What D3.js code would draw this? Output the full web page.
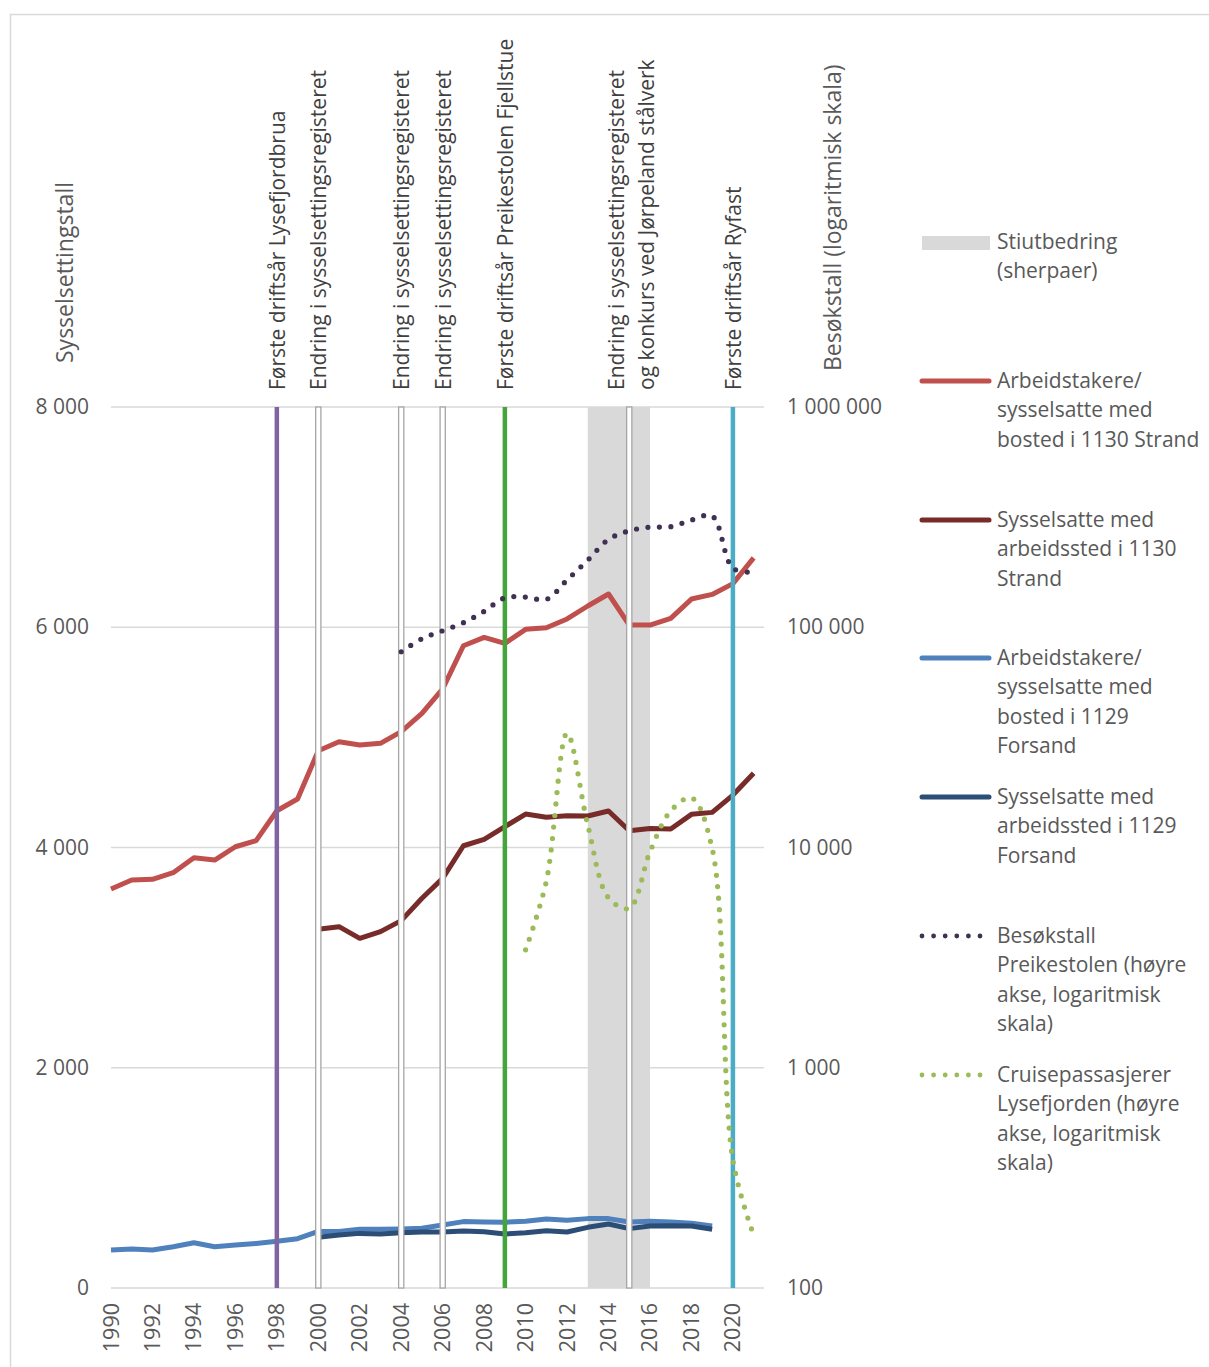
<!DOCTYPE html>
<html><head><meta charset="utf-8">
<script src="https://cdn.jsdelivr.net/npm/d3@7"></script>
<style>
html,body{margin:0;padding:0;background:#fff;}
svg text{font-family:"Open Sans","Noto Sans",sans-serif;}
</style></head>
<body>
<svg id="c" width="1209" height="1367"></svg>
<script>
// ---------- DATA ----------
const yearsAll = d3.range(1990, 2022);            // 1990..2021
const strandBosted = [3623,3705,3711,3771,3907,3886,4007,4062,4334,4440,4879,4961,4931,4946,5052,5218,5440,5832,5908,5854,5981,5996,6075,6193,6302,6020,6020,6080,6256,6298,6396,6630];
const strandArbeidYears = d3.range(2000, 2022);
const strandArbeid = [3257,3281,3175,3236,3336,3539,3720,4016,4074,4189,4304,4274,4289,4286,4331,4152,4173,4168,4301,4319,4476,4674];
const forsandBostedYears = d3.range(1990, 2020);
const forsandBosted = [345,354,345,375,411,375,390,405,424,448,514,514,533,533,536,542,572,603,600,597,606,627,615,630,630,600,606,600,588,564];
const forsandArbeidYears = d3.range(2000, 2020);
const forsandArbeid = [460,481,496,490,502,508,508,517,511,490,502,520,508,551,581,539,563,566,563,533];
const preikYears = d3.range(2004, 2022);
const preikestolen = [77400,88700,96400,104900,118100,136100,137100,133900,164000,201700,250600,274100,285000,286000,306800,320000,185400,177900];
const cruiseYears = d3.range(2010, 2022);
const cruise = [3430,7030,33000,12650,5910,5300,9570,14660,16800,9900,381,174];

const leftTicks = [0, 2000, 4000, 6000, 8000];
const rightTicks = [100, 1000, 10000, 100000, 1000000];
const xTickYears = d3.range(1990, 2021, 2);

const band = [2013, 2016];
const events = [
  {year:1998, kind:"solid", color:"#8064A2", lines:["Første driftsår Lysefjordbrua"]},
  {year:2000, kind:"double", lines:["Endring i sysselsettingsregisteret"]},
  {year:2004, kind:"double", lines:["Endring i sysselsettingsregisteret"]},
  {year:2006, kind:"double", lines:["Endring i sysselsettingsregisteret"]},
  {year:2009, kind:"solid", color:"#46A53A", lines:["Første driftsår Preikestolen Fjellstue"]},
  {year:2015, kind:"double", lines:["Endring i sysselsettingsregisteret","og konkurs ved Jørpeland stålverk"]},
  {year:2020, kind:"solid", color:"#4BACC6", lines:["Første driftsår Ryfast"]}
];

const legendItems = [
  {type:"rect", color:"#D9D9D9", lines:["Stiutbedring","(sherpaer)"], y:242},
  {type:"line", color:"#C0504D", lines:["Arbeidstakere/","sysselsatte med","bosted i 1130 Strand"], y:381},
  {type:"line", color:"#772C2A", lines:["Sysselsatte med","arbeidssted i 1130","Strand"], y:520},
  {type:"line", color:"#4F81BD", lines:["Arbeidstakere/","sysselsatte med","bosted i 1129","Forsand"], y:658},
  {type:"line", color:"#2C4D75", lines:["Sysselsatte med","arbeidssted i 1129","Forsand"], y:797},
  {type:"dot", color:"#403152", lines:["Besøkstall","Preikestolen (høyre","akse, logaritmisk","skala)"], y:936},
  {type:"dot", color:"#9BBB59", lines:["Cruisepassasjerer","Lysefjorden (høyre","akse, logaritmisk","skala)"], y:1075}
];

// ---------- SCALES ----------
const svg = d3.select("#c");
const x = d3.scaleLinear().domain([1990, 2021.5]).range([111, 764]);
const yL = d3.scaleLinear().domain([0, 8000]).range([1288, 407]);
const yR = d3.scaleLog().domain([100, 1000000]).range([1288, 407]);

// outer border
svg.append("rect").attr("x",10.5).attr("y",14.5).attr("width",1240).attr("height",1400)
  .attr("fill","none").attr("stroke","#D9D9D9").attr("stroke-width",1.5);

// band
svg.append("rect").attr("x", x(band[0])).attr("y", yL(8000))
  .attr("width", x(band[1]) - x(band[0])).attr("height", yL(0) - yL(8000))
  .attr("fill", "#D9D9D9");

// gridlines
svg.append("g").selectAll("line").data(leftTicks).join("line")
  .attr("x1", x(1990)).attr("x2", x(2021.5))
  .attr("y1", d => yL(d)).attr("y2", d => yL(d))
  .attr("stroke", "#D9D9D9").attr("stroke-width", 1.5);

// left axis labels
const gl = svg.append("g").attr("transform", "translate(89,0)")
  .call(d3.axisLeft(yL).tickValues(leftTicks).tickSize(0).tickPadding(0)
    .tickFormat(d => d3.format(",")(d).replace(/,/g, " ")));
gl.select(".domain").remove();
gl.selectAll("text").attr("font-size", 21).attr("fill", "#595959")
  .attr("font-family", "'Open Sans', sans-serif");

// right axis labels
const gr = svg.append("g").attr("transform", "translate(787,0)")
  .call(d3.axisRight(yR).tickValues(rightTicks).tickSize(0).tickPadding(0)
    .tickFormat(d => d3.format(",")(d).replace(/,/g, " ")));
gr.select(".domain").remove();
gr.selectAll("text").attr("font-size", 21).attr("fill", "#595959")
  .attr("font-family", "'Open Sans', sans-serif");

// bottom axis labels (rotated)
svg.append("g").selectAll("text").data(xTickYears).join("text")
  .attr("transform", d => `translate(${x(d) + 7.5},1303) rotate(-90)`)
  .attr("text-anchor", "end")
  .attr("font-family", "'Liberation Sans', Arial, sans-serif")
  .attr("font-size", 21.5).attr("fill", "#595959")
  .text(d => d);

// axis titles
svg.append("text").attr("transform", "translate(73,363) rotate(-90)")
  .attr("font-size", 23).attr("fill", "#595959").text("Sysselsettingstall");
svg.append("text").attr("transform", "translate(841,371) rotate(-90)")
  .attr("font-size", 23).attr("fill", "#595959").text("Besøkstall (logaritmisk skala)");

// ---------- SERIES ----------
const lineL = d3.line().x(d => x(d[0])).y(d => yL(d[1]));
const lineR = d3.line().x(d => x(d[0])).y(d => yR(d[1])).curve(d3.curveCatmullRom.alpha(0.5));
const solid = [
  {years: yearsAll, vals: strandBosted, color: "#C0504D"},
  {years: strandArbeidYears, vals: strandArbeid, color: "#772C2A"},
  {years: forsandBostedYears, vals: forsandBosted, color: "#4F81BD"},
  {years: forsandArbeidYears, vals: forsandArbeid, color: "#2C4D75"}
];
const dotted = [
  {years: preikYears, vals: preikestolen, color: "#403152"},
  {years: cruiseYears, vals: cruise, color: "#9BBB59"}
];
solid.forEach(s => {
  svg.append("path").attr("d", lineL(s.years.map((y, i) => [y, s.vals[i]])))
    .attr("fill", "none").attr("stroke", s.color).attr("stroke-width", 5)
    .attr("stroke-linejoin", "round");
});

// ---------- EVENT LINES ----------
events.forEach(ev => {
  const cx = x(ev.year);
  if (ev.kind === "solid") {
    svg.append("line").attr("x1", cx).attr("x2", cx).attr("y1", yL(8000)).attr("y2", yL(0))
      .attr("stroke", ev.color).attr("stroke-width", 4.5);
  } else {
    svg.append("rect").attr("x", cx - 2.6).attr("y", yL(8000)).attr("width", 5.2)
      .attr("height", yL(0) - yL(8000)).attr("fill", "#fff")
      .attr("stroke", "#A6A6A6").attr("stroke-width", 1.3);
  }
  const n = ev.lines.length;
  ev.lines.forEach((t, i) => {
    const bx = cx + 8 + (i - (n - 1) / 2) * 30 - (n > 1 ? -2 : 0);
    svg.append("text").attr("transform", `translate(${bx},390) rotate(-90)`)
      .attr("font-size", 21).attr("fill", "#404040").text(t);
  });
});

// dotted series on top
dotted.forEach(s => {
  svg.append("path").attr("d", lineR(s.years.map((y, i) => [y, s.vals[i]])))
    .attr("fill", "none").attr("stroke", s.color).attr("stroke-width", 5.2)
    .attr("stroke-linecap", "round").attr("stroke-dasharray", "0 11.5");
});

// ---------- LEGEND ----------
legendItems.forEach(it => {
  if (it.type === "rect") {
    svg.append("rect").attr("x", 922).attr("y", 236).attr("width", 68).attr("height", 14).attr("fill", it.color);
  } else if (it.type === "line") {
    svg.append("line").attr("x1", 922).attr("x2", 989).attr("y1", it.y).attr("y2", it.y)
      .attr("stroke", it.color).attr("stroke-width", 5).attr("stroke-linecap", "round");
  } else {
    svg.append("line").attr("x1", 922).attr("x2", 990).attr("y1", it.y).attr("y2", it.y)
      .attr("stroke", it.color).attr("stroke-width", 4.8).attr("stroke-linecap", "round")
      .attr("stroke-dasharray", "0 11.6");
  }
  it.lines.forEach((t, i) => {
    svg.append("text").attr("x", 997).attr("y", it.y + 7 + i * 29.3)
      .attr("font-size", 21).attr("fill", "#595959").text(t);
  });
});
</script>
</body></html>
